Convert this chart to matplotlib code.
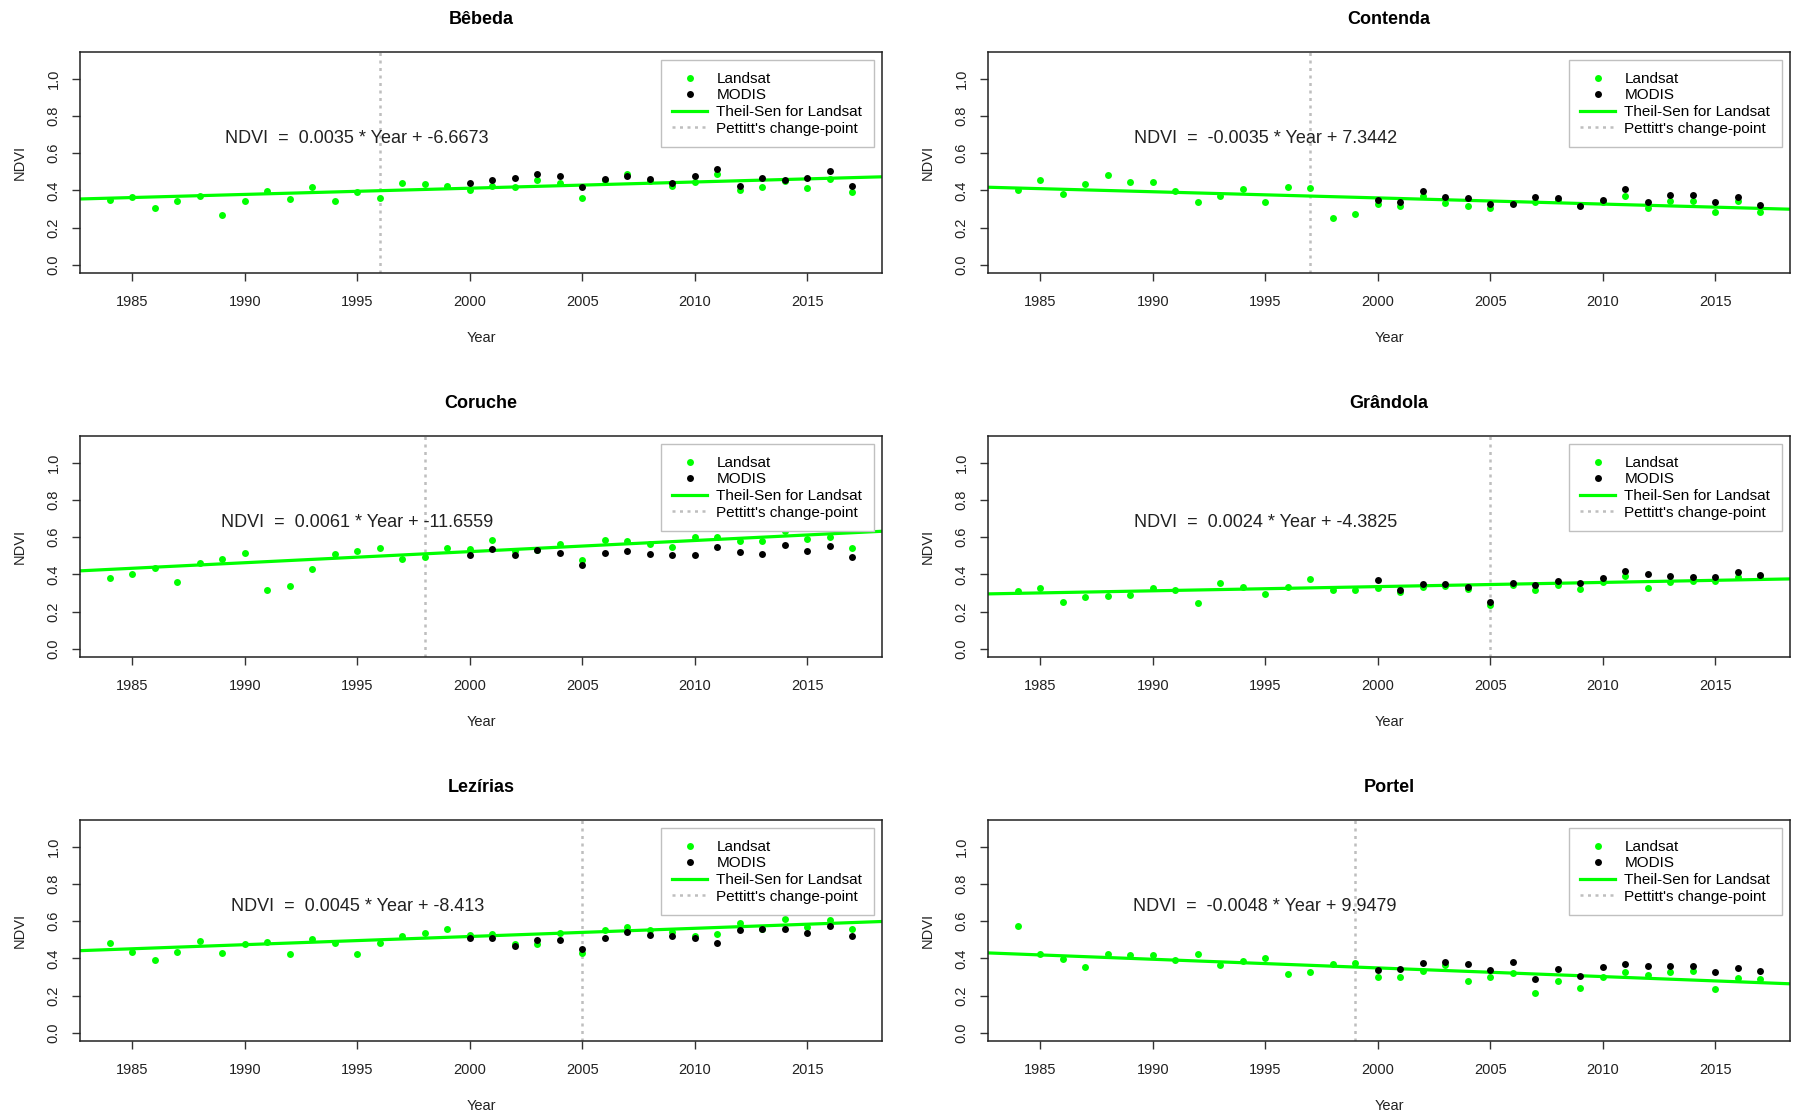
import matplotlib
matplotlib.use('Agg')
from matplotlib import pyplot as plt
from matplotlib.lines import Line2D

plt.rcParams['font.family'] = ['Liberation Sans', 'DejaVu Sans']

years = list(range(1984, 2018))
modis_years = list(range(2000, 2018))

sites = ['Bêbeda', 'Contenda', 'Coruche', 'Grândola', 'Lezírias', 'Portel']

landsat_bebeda = [0.349, 0.367, 0.304, 0.342, 0.372, 0.268, 0.342, 0.395, 0.356, 0.419,
                  0.342, 0.394, 0.358, 0.440, 0.433, 0.426, 0.400, 0.424, 0.417, 0.454,
                  0.442, 0.358, 0.455, 0.490, 0.450, 0.424, 0.445, 0.490, 0.400, 0.419,
                  0.450, 0.411, 0.460, 0.394]
modis_bebeda = [0.440, 0.456, 0.465, 0.487, 0.479, 0.419, 0.463, 0.480, 0.463, 0.440,
                0.478, 0.517, 0.426, 0.467, 0.454, 0.467, 0.503, 0.426]

landsat_contenda = [0.400, 0.456, 0.379, 0.435, 0.485, 0.447, 0.447, 0.395, 0.335, 0.370,
                    0.410, 0.335, 0.419, 0.411, 0.252, 0.275, 0.326, 0.318, 0.370, 0.333,
                    0.318, 0.304, 0.333, 0.338, 0.350, 0.320, 0.340, 0.370, 0.304, 0.342,
                    0.342, 0.286, 0.342, 0.286]
modis_contenda = [0.347, 0.338, 0.395, 0.367, 0.361, 0.326, 0.326, 0.367, 0.358, 0.318,
                  0.349, 0.406, 0.336, 0.374, 0.374, 0.336, 0.367, 0.322]

landsat_coruche = [0.383, 0.403, 0.435, 0.361, 0.460, 0.481, 0.517, 0.315, 0.336, 0.428,
                   0.512, 0.526, 0.540, 0.485, 0.492, 0.540, 0.535, 0.585, 0.528, 0.530,
                   0.565, 0.476, 0.585, 0.581, 0.564, 0.546, 0.603, 0.603, 0.578, 0.578,
                   0.633, 0.592, 0.603, 0.540]
modis_coruche = [0.503, 0.537, 0.503, 0.530, 0.517, 0.450, 0.517, 0.526, 0.510, 0.503,
                 0.503, 0.549, 0.519, 0.510, 0.558, 0.526, 0.555, 0.496]

landsat_grandola = [0.311, 0.329, 0.254, 0.281, 0.283, 0.290, 0.326, 0.315, 0.247, 0.354,
                    0.333, 0.297, 0.331, 0.374, 0.315, 0.315, 0.326, 0.306, 0.333, 0.336,
                    0.320, 0.238, 0.343, 0.315, 0.343, 0.322, 0.358, 0.390, 0.329, 0.360,
                    0.367, 0.367, 0.385, 0.394]
modis_grandola = [0.369, 0.318, 0.349, 0.349, 0.333, 0.254, 0.354, 0.345, 0.367, 0.354,
                  0.379, 0.420, 0.404, 0.392, 0.385, 0.385, 0.415, 0.397]

landsat_lezirias = [0.483, 0.436, 0.394, 0.436, 0.492, 0.431, 0.476, 0.490, 0.424, 0.503,
                    0.483, 0.424, 0.481, 0.522, 0.537, 0.558, 0.524, 0.531, 0.478, 0.479,
                    0.537, 0.429, 0.553, 0.569, 0.553, 0.542, 0.520, 0.530, 0.590, 0.560,
                    0.610, 0.569, 0.605, 0.558]
modis_lezirias = [0.512, 0.512, 0.469, 0.499, 0.499, 0.453, 0.512, 0.542, 0.526, 0.521,
                  0.512, 0.483, 0.555, 0.556, 0.556, 0.537, 0.572, 0.521]

landsat_portel = [0.574, 0.422, 0.399, 0.354, 0.426, 0.417, 0.417, 0.394, 0.424, 0.363,
                  0.388, 0.404, 0.317, 0.326, 0.370, 0.374, 0.302, 0.302, 0.333, 0.363,
                  0.279, 0.302, 0.320, 0.213, 0.279, 0.243, 0.302, 0.326, 0.309, 0.326,
                  0.333, 0.236, 0.295, 0.288]
modis_portel = [0.340, 0.342, 0.377, 0.379, 0.370, 0.335, 0.379, 0.288, 0.342, 0.304,
                0.354, 0.370, 0.358, 0.358, 0.358, 0.326, 0.347, 0.333]

landsat = [landsat_bebeda, landsat_contenda, landsat_coruche,
           landsat_grandola, landsat_lezirias, landsat_portel]
modis = [modis_bebeda, modis_contenda, modis_coruche,
         modis_grandola, modis_lezirias, modis_portel]

# Theil-Sen line read at 1983 and 2018
trend_1983 = [0.355, 0.416, 0.421, 0.296, 0.443, 0.428]
trend_2018 = [0.472, 0.300, 0.630, 0.375, 0.597, 0.265]
change_points = [1996, 1997, 1998, 2005, 2005, 1999]
equations = ['NDVI  =  0.0035 * Year + -6.6673',
             'NDVI  =  -0.0035 * Year + 7.3442',
             'NDVI  =  0.0061 * Year + -11.6559',
             'NDVI  =  0.0024 * Year + -4.3825',
             'NDVI  =  0.0045 * Year + -8.413',
             'NDVI  =  -0.0048 * Year + 9.9479']

W, H = 1796, 1115
fig = plt.figure(figsize=(W / 100, H / 100), dpi=100)

col_left = [80, 988]
row_top = [52, 436, 820]
aw, ah = 802, 221

for i, site in enumerate(sites):
    r, c = divmod(i, 2)
    ax = fig.add_axes([col_left[c] / W, 1 - (row_top[r] + ah) / H, aw / W, ah / H])
    ax.plot(years, landsat[i], 'o', color='#00ff00', ms=5, mec='none', zorder=3)
    ax.plot(modis_years, modis[i], 'o', color='black', ms=5, mec='none', zorder=4)
    ax.axline((1983, trend_1983[i]), (2018, trend_2018[i]), color='#00ff00', lw=2.3, zorder=2)
    ax.axvline(change_points[i], color='#bebebe', lw=1.8, ls=(0, (1.2, 1.8)), zorder=1)
    ax.text(1995, 0.68, equations[i], ha='center', va='center', fontsize=13, color='#222222')

    ax.set_xlim(1982.68, 2018.32)
    ax.set_ylim(-0.044, 1.144)
    ax.set_xticks([1985, 1990, 1995, 2000, 2005, 2010, 2015])
    ax.set_yticks([0.0, 0.2, 0.4, 0.6, 0.8, 1.0])
    ax.set_yticklabels(['0.0', '0.2', '0.4', '0.6', '0.8', '1.0'], rotation=90, va='center')
    ax.tick_params(length=6, width=1, labelsize=10.5, pad=8, color='#333333', labelcolor='#222222')
    ax.tick_params(axis='x', pad=9.5)
    for s in ax.spines.values():
        s.set_linewidth(1.1)
        s.set_color('#222222')

    ax.set_title(site, fontsize=13, fontweight='bold', pad=20)
    ax.set_xlabel('Year', fontsize=10.5, labelpad=16.5, color='#222222')
    ax.set_ylabel('NDVI', fontsize=10.5, labelpad=14, color='#222222')

    handles = [Line2D([], [], ls='none', marker='o', color='#00ff00', ms=5, mec='none'),
               Line2D([], [], ls='none', marker='o', color='black', ms=5, mec='none'),
               Line2D([], [], color='#00ff00', lw=2.3),
               Line2D([], [], color='#bebebe', lw=1.8, ls=(0, (1.2, 1.8)))]
    labels = ['Landsat', 'MODIS', 'Theil-Sen for Landsat', "Pettitt's change-point"]
    leg = ax.legend(handles, labels, loc='upper right', fontsize=11, labelspacing=0.17,
                    handlelength=2.3, handletextpad=0.6, borderpad=0.75, borderaxespad=0.55,
                    fancybox=False, framealpha=1, edgecolor='#c0c0c0')
    leg.get_frame().set_linewidth(1.0)

fig.savefig('out.png', dpi=100)
